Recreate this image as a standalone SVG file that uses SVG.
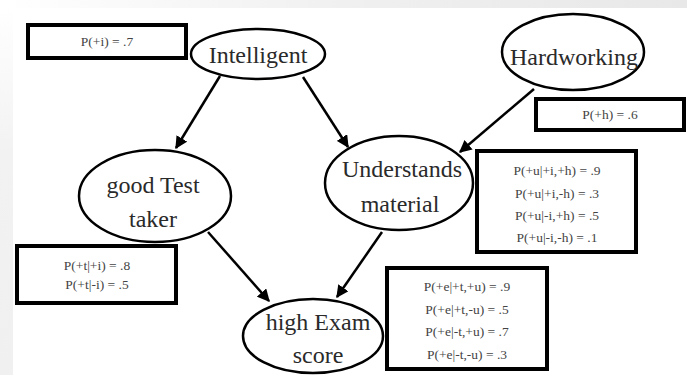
<svg xmlns="http://www.w3.org/2000/svg" width="687" height="375" viewBox="0 0 687 375">
<style>
.node ellipse{fill:#fff;stroke:#000;stroke-width:2.5}
.node text{font-size:24px;fill:#2a2a2a;text-anchor:middle}
.cpt rect{fill:#fff;stroke:#000;stroke-width:4}
.cpt text{font-size:13.5px;fill:#444;text-anchor:middle}
.edge{stroke:#000;stroke-width:2.5;fill:none;marker-end:url(#ah)}
</style>
<defs>
<marker id="ah" viewBox="0 0 10 10" refX="9" refY="5" markerWidth="5" markerHeight="5" orient="auto" markerUnits="strokeWidth">
<path d="M0,0 L10,5 L0,10 z" fill="#000"/>
</marker>
<linearGradient id="gt" x1="0" y1="0" x2="1" y2="0">
<stop offset="0" stop-color="#fff"/>
<stop offset="0.5" stop-color="#f0f0f0"/>
<stop offset="1" stop-color="#e8e8e8"/>
</linearGradient>
<linearGradient id="gl" x1="0" y1="0" x2="0" y2="1">
<stop offset="0" stop-color="#fff"/>
<stop offset="0.4" stop-color="#f2f2f2"/>
<stop offset="1" stop-color="#f0f0f0"/>
</linearGradient>
</defs>
<rect width="687" height="375" fill="#fff"/>
<rect x="0" y="0" width="687" height="8" fill="url(#gt)"/>
<rect x="0" y="8" width="13" height="367" fill="url(#gl)"/>

<g id="connectors">
<line class="edge" x1="220" y1="76" x2="176" y2="148"/>
<line class="edge" x1="303" y1="77" x2="348" y2="147"/>
<line class="edge" x1="534" y1="89" x2="460" y2="152"/>
<line class="edge" x1="208" y1="232" x2="269" y2="301"/>
<line class="edge" x1="382" y1="232" x2="337" y2="297"/>
</g>

<g font-family="Liberation Serif, Times New Roman, DejaVu Serif, serif">
<g id="cpt-i" class="cpt">
<rect x="28" y="25" width="158" height="33"/>
<text x="107" y="46">P(+i) = .7</text>
</g>
<g id="cpt-h" class="cpt">
<rect x="536" y="99" width="148" height="31"/>
<text x="610" y="119">P(+h) = .6</text>
</g>
<g id="cpt-t" class="cpt">
<rect x="17" y="246" width="159" height="57"/>
<text x="97" y="270">P(+t|+i) = .8</text>
<text x="97" y="289">P(+t|-i) = .5</text>
</g>
<g id="cpt-u" class="cpt">
<rect x="477" y="151" width="159" height="101"/>
<text x="557" y="175">P(+u|+i,+h) = .9</text>
<text x="557" y="198">P(+u|+i,-h) = .3</text>
<text x="557" y="220">P(+u|-i,+h) = .5</text>
<text x="557" y="242">P(+u|-i,-h) = .1</text>
</g>
<g id="cpt-e" class="cpt">
<rect x="387" y="268" width="160" height="101"/>
<text x="467" y="291">P(+e|+t,+u) = .9</text>
<text x="467" y="314">P(+e|+t,-u) = .5</text>
<text x="467" y="336">P(+e|-t,+u) = .7</text>
<text x="467" y="359">P(+e|-t,-u) = .3</text>
</g>

<g id="intelligent" class="node">
<ellipse cx="258" cy="54" rx="67" ry="25"/>
<text x="258" y="63">Intelligent</text>
</g>
<g id="hardworking" class="node">
<ellipse cx="573" cy="52" rx="71" ry="38"/>
<text x="574" y="65">Hardworking</text>
</g>
<g id="testtaker" class="node">
<ellipse cx="155" cy="196" rx="76" ry="46"/>
<text x="153" y="193">good Test</text>
<text x="153" y="227">taker</text>
</g>
<g id="understands" class="node">
<ellipse cx="399" cy="183" rx="74" ry="47"/>
<text x="402" y="177">Understands</text>
<text x="400" y="212">material</text>
</g>
<g id="exam" class="node">
<ellipse cx="313" cy="336" rx="70" ry="37"/>
<text x="318" y="330">high Exam</text>
<text x="318" y="363">score</text>
</g>
</g>
</svg>
